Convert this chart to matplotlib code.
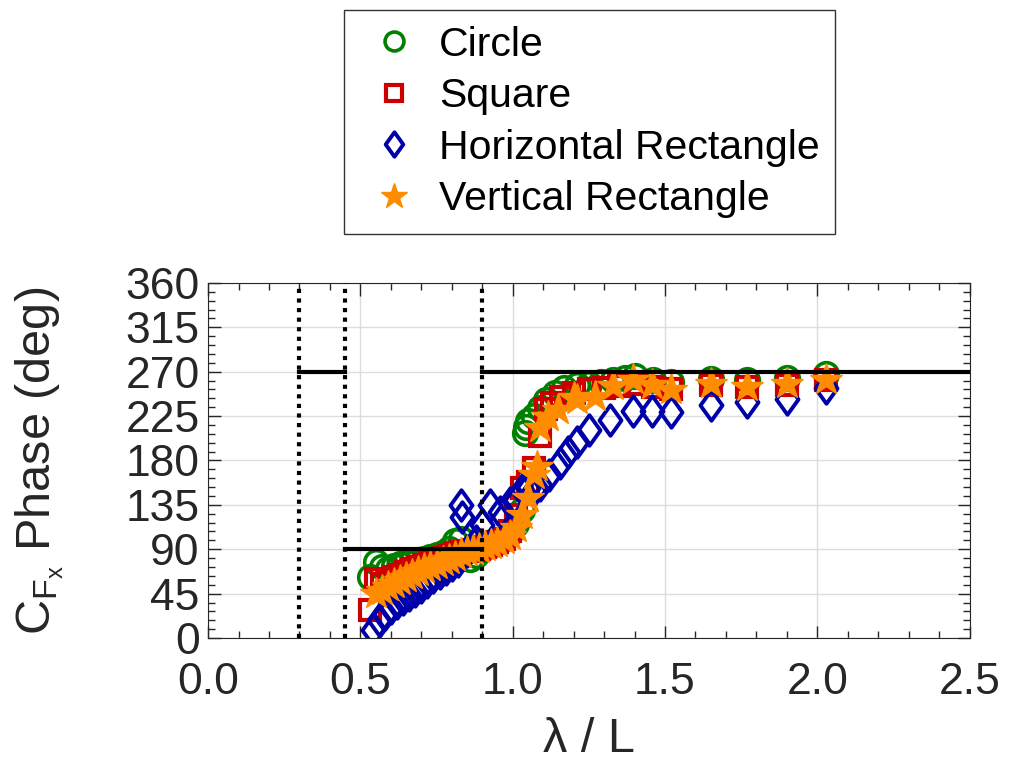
import matplotlib
matplotlib.use("Agg")
import matplotlib.pyplot as plt
from matplotlib.ticker import MultipleLocator
from matplotlib.path import Path

plt.rcParams["font.family"] = ["Liberation Sans", "DejaVu Sans"]
plt.rcParams["mathtext.fontset"] = "custom"
plt.rcParams["mathtext.rm"] = "Liberation Sans"
plt.rcParams["mathtext.it"] = "Liberation Sans:italic"

# ---- data ----
circle_x = [0.53, 0.55, 0.57, 0.59, 0.61, 0.63, 0.65, 0.67, 0.69, 0.71, 0.73, 0.75,
            0.77, 0.79, 0.81, 0.83, 0.86, 0.88, 0.90, 0.93, 0.96, 0.99, 1.01, 1.03,
            1.04, 1.045, 1.05, 1.07, 1.09, 1.11, 1.14, 1.17, 1.21, 1.25, 1.29, 1.33,
            1.37, 1.40, 1.46, 1.52, 1.65, 1.77, 1.90, 2.03]
circle_y = [62, 77, 72, 70, 73, 75, 77, 78, 79, 80, 82, 84,
            86, 90, 98, 100, 80, 84, 90, 94, 98, 106, 116, 130,
            208, 214, 220, 225, 233, 241, 248, 253, 257, 258, 260, 262,
            264, 266, 262, 260, 263, 262, 264, 268]

square_x = [0.53, 0.55, 0.57, 0.59, 0.61, 0.63, 0.65, 0.67, 0.69, 0.71, 0.73, 0.75,
            0.77, 0.79, 0.81, 0.83, 0.85, 0.87, 0.89, 0.91, 0.93, 0.95, 0.97, 0.99,
            1.01, 1.03, 1.05, 1.07, 1.09, 1.11, 1.13, 1.16, 1.20, 1.25, 1.30, 1.35,
            1.40, 1.46, 1.52, 1.65, 1.77, 1.90, 2.03]
square_y = [28, 60, 55, 58, 62, 64, 67, 70, 72, 74, 76, 79,
            81, 83, 85, 87, 88, 89, 90, 92, 94, 97, 100, 108,
            125, 152, 158, 172, 205, 232, 238, 244, 248, 252, 253, 256,
            258, 255, 252, 257, 255, 257, 262]

diamond_x = [0.54, 0.56, 0.58, 0.60, 0.62, 0.64, 0.66, 0.68, 0.70, 0.72, 0.74, 0.76,
             0.78, 0.80, 0.82, 0.83, 0.835, 0.85, 0.88, 0.90, 0.925, 0.96, 0.99, 1.01,
             1.03, 1.05, 1.07, 1.09, 1.12, 1.155, 1.18, 1.21, 1.25, 1.32, 1.395, 1.456,
             1.521, 1.65, 1.77, 1.90, 2.03]
diamond_y = [8, 18, 24, 30, 36, 40, 44, 48, 52, 57, 62, 66,
             70, 74, 78, 135, 123, 88, 98, 115, 135, 128, 137, 140,
             150, 152, 150, 155, 165, 177, 189, 199, 211, 221, 230, 230,
             229, 236, 239, 242, 254]

star_x = [0.55, 0.57, 0.59, 0.61, 0.63, 0.65, 0.67, 0.69, 0.71, 0.73, 0.75, 0.77,
          0.79, 0.81, 0.83, 0.85, 0.87, 0.89, 0.91, 0.93, 0.95, 0.97, 0.99, 1.01,
          1.03, 1.05, 1.07, 1.08, 1.09, 1.115, 1.15, 1.20, 1.21, 1.27, 1.33, 1.395,
          1.457, 1.52, 1.65, 1.77, 1.90, 2.03]
star_y = [45, 48, 52, 55, 58, 61, 64, 67, 70, 72, 74, 77,
          79, 82, 85, 87, 88, 90, 92, 94, 96, 99, 103, 112,
          125, 142, 165, 173, 213, 224, 231, 243, 241, 244, 256, 262,
          257, 251, 258, 255, 258, 262]

# theoretical reference levels
bounds = [0.3, 0.45, 0.9]
level_x = [[0.3, 0.45], [0.45, 0.9], [0.9, 2.5]]
level_y = [270, 90, 270]

xticks = [0.0, 0.5, 1.0, 1.5, 2.0, 2.5]
yticks = [0, 45, 90, 135, 180, 225, 270, 315, 360]

green = "#008000"
red = "#CC0000"
blue = "#0000AA"
orange = "#FF8C00"
ink = "#262626"

# thinner diamond like the MATLAB one
diamond = Path([(0, 1), (0.72, 0), (0, -1), (-0.72, 0), (0, 1)],
               [Path.MOVETO, Path.LINETO, Path.LINETO, Path.LINETO, Path.CLOSEPOLY])

fig = plt.figure(figsize=(10.1, 7.74), dpi=100)
ax = fig.add_axes([0.206, 0.1757, 0.754, 0.4587])

ax.plot(circle_x, circle_y, ls="none", marker="o", ms=17, mfc="none", mec=green, mew=2.6,
        label="Circle")
ax.plot(square_x, square_y, ls="none", marker="s", ms=14, mfc="none", mec=red, mew=3,
        label="Square")
ax.plot(diamond_x, diamond_y, ls="none", marker=diamond, ms=22, mfc="none", mec=blue, mew=2.8,
        label="Horizontal Rectangle")
ax.plot(star_x, star_y, ls="none", marker="*", ms=24, mfc=orange, mec=orange, mew=1,
        label="Vertical Rectangle")

for xs, y in zip(level_x, level_y):
    ax.plot(xs, [y, y], color="black", lw=3, zorder=5)
for b in bounds:
    ax.plot([b, b], [0, 360], color="black", lw=3, ls=(0, (1, 1.3)), zorder=5)

ax.set_xlim(0, 2.5)
ax.set_ylim(0, 360)
ax.set_xticks(xticks)
ax.set_xticklabels([f"{t:.1f}" for t in xticks])
ax.set_yticks(yticks)
ax.xaxis.set_minor_locator(MultipleLocator(0.1))
ax.yaxis.set_minor_locator(MultipleLocator(9))
ax.tick_params(which="both", direction="in", top=True, right=True, colors=ink,
               labelsize=32, labelcolor=ink)
ax.tick_params(which="major", length=9, width=1)
ax.tick_params(which="minor", length=5, width=1)
ax.tick_params(axis="x", pad=17)
ax.tick_params(axis="y", pad=6)
ax.grid(True, which="major", color="#DDDDDD", lw=1)
ax.set_axisbelow(True)
for s in ax.spines.values():
    s.set_color(ink)

ax.set_xlabel("λ / L", fontsize=35, color=ink, labelpad=10)
ax.set_ylabel(r"C$_{\mathrm{F}_{\mathrm{x}}}$ Phase (deg)", fontsize=35, color=ink,
              labelpad=43)

leg = fig.legend(loc="upper center", bbox_to_anchor=(0.5837, 0.987), fontsize=29.5,
                 frameon=True, fancybox=False, edgecolor="#333333", framealpha=1,
                 handlelength=1.7, handletextpad=0.25, labelspacing=0.33,
                 borderpad=0.38, borderaxespad=0, markerscale=0.8)
leg.get_frame().set_linewidth(1)

fig.savefig("out.png", dpi=100)
